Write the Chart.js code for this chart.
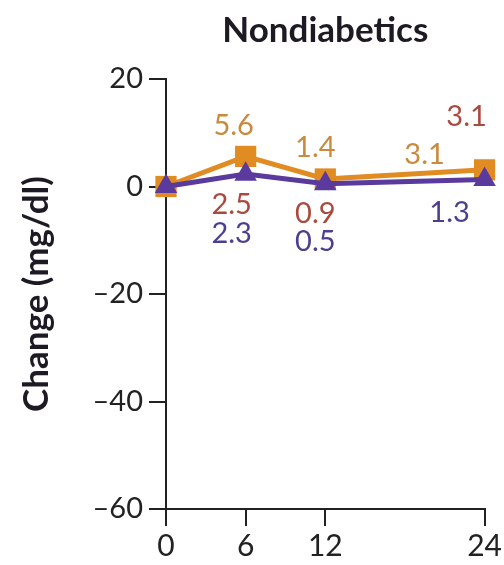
<!DOCTYPE html>
<html>
<head>
<meta charset="utf-8">
<script src="https://cdn.jsdelivr.net/npm/chart.js@4.4.0/dist/chart.umd.min.js"></script>
<style>
  html, body { margin: 0; padding: 0; background: #fff; }
  #wrap { width: 504px; height: 565px; }
</style>
</head>
<body>
<div id="wrap"><canvas id="chart" width="504" height="565"></canvas></div>
<script>
// months since start
const months = [0, 6, 12, 24];
const xTicks = [0, 6, 12, 24];
const yTicks = [-60, -40, -20, 0, 20];

// change in mg/dl
const orangeValues = [0, 5.6, 1.4, 3.1];
const redValues = [0, 2.5, 0.9, 3.1];
const purpleValues = [0, 2.3, 0.5, 1.3];

// where each value label sits, relative to its point (px)
const labelOffsets = {
    orange: [null, [-12, -31], [-10, -31], [-60, -15]],
    red: [null, [-14, 32], [-10, 32], [-18, -53]],
    purple: [null, [-14, 60], [-10, 58], [-35, 33]]
};

function toPoints(values) {
    return months.map((m, i) => ({ x: m, y: values[i] }));
}

const valueLabels = {
    id: 'valueLabels',
    afterDatasetsDraw(chart) {
        let ctx = chart.ctx;
        ctx.save();
        ctx.font = '29px Lato';
        ctx.textAlign = 'center';
        ctx.textBaseline = 'middle';
        chart.data.datasets.forEach((ds, di) => {
            let meta = chart.getDatasetMeta(di);
            let offs = labelOffsets[ds.key];
            meta.data.forEach((pt, i) => {
                if (!offs[i]) return;
                ctx.fillStyle = ds.labelColor;
                ctx.fillText(ds.data[i].y.toFixed(1), pt.x + offs[i][0], pt.y + offs[i][1]);
            });
        });
        ctx.restore();
    }
};

let ctx = document.getElementById('chart').getContext('2d');
new Chart(ctx, {
    type: 'line',
    data: {
        datasets: [{
            key: 'purple',
            data: toPoints(purpleValues),
            borderColor: '#5a3a9c',
            backgroundColor: '#5a3a9c',
            labelColor: '#4e3f8e',
            borderWidth: 5,
            pointStyle: 'triangle',
            pointRadius: 13,
            pointBorderWidth: 0,
            clip: false,
            order: 1
        }, {
            key: 'orange',
            data: toPoints(orangeValues),
            borderColor: '#e08c22',
            backgroundColor: '#e08c22',
            labelColor: '#c98a3e',
            borderWidth: 5,
            pointStyle: 'rect',
            pointRadius: 15,
            pointBorderWidth: 0,
            clip: false,
            order: 2
        }, {
            key: 'red',
            data: toPoints(redValues),
            borderColor: '#a94a3f',
            backgroundColor: '#a94a3f',
            labelColor: '#a94a3f',
            showLine: false,
            pointRadius: 0,
            clip: false,
            order: 3
        }]
    },
    options: {
        responsive: false,
        animation: false,
        events: [],
        layout: { padding: { left: 0, right: 17, top: 0, bottom: 0 } },
        plugins: {
            legend: { display: false },
            tooltip: { enabled: false },
            title: {
                display: true,
                text: 'Nondiabetics',
                fullSize: false,
                color: '#1e1a24',
                font: { family: 'Lato', size: 35, weight: 'bold' },
                padding: { top: 10, bottom: 27 }
            }
        },
        scales: {
            x: {
                type: 'linear',
                min: 0,
                max: 24,
                afterBuildTicks: function (axis) {
                    axis.ticks = xTicks.map(v => ({ value: v }));
                },
                afterFit: function (axis) {
                    axis.height = 56;
                },
                grid: {
                    drawOnChartArea: false,
                    drawTicks: true,
                    tickLength: 17,
                    color: '#222',
                    lineWidth: 2
                },
                border: { display: true, color: '#222', width: 2 },
                ticks: {
                    color: '#222',
                    font: { family: 'Lato', size: 30 },
                    padding: 2,
                    maxRotation: 0
                }
            },
            y: {
                min: -60,
                max: 20,
                afterBuildTicks: function (axis) {
                    axis.ticks = yTicks.map(v => ({ value: v }));
                },
                afterFit: function (axis) {
                    axis.width = 166;
                },
                grid: {
                    drawOnChartArea: false,
                    drawTicks: true,
                    tickLength: 17,
                    color: '#222',
                    lineWidth: 2
                },
                border: { display: true, color: '#222', width: 2 },
                ticks: {
                    color: '#222',
                    font: { family: 'Lato', size: 29 },
                    padding: 6,
                    callback: function (v) {
                        return v < 0 ? '\u2013' + Math.abs(v) : String(v);
                    }
                },
                title: {
                    display: true,
                    text: 'Change (mg/dl)',
                    color: '#1e1a24',
                    font: { family: 'Lato', size: 35, weight: 'bold' },
                    padding: { top: 16, bottom: 0 }
                }
            }
        }
    },
    plugins: [valueLabels]
});
</script>
</body>
</html>
